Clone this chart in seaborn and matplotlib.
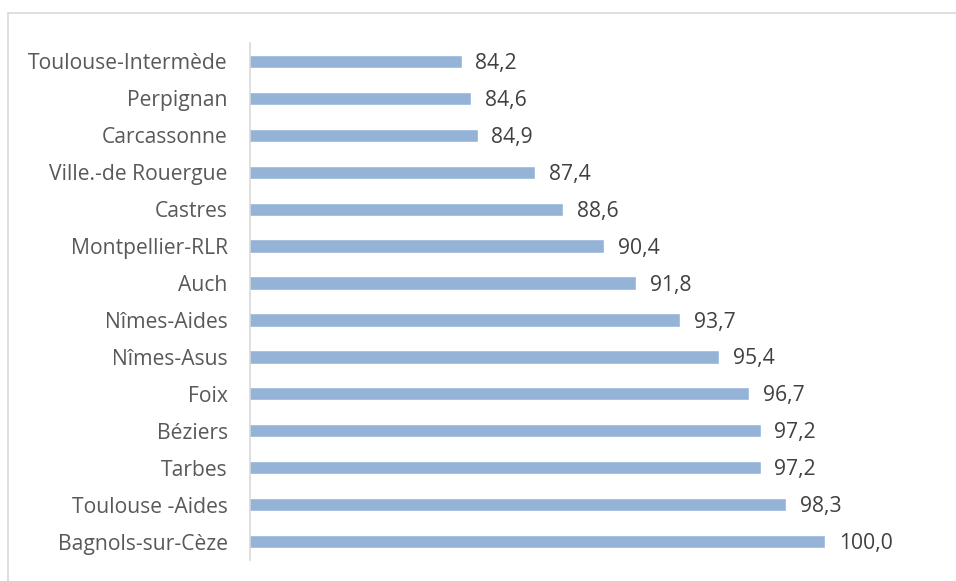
import matplotlib
matplotlib.use("Agg")
import matplotlib.pyplot as plt
import matplotlib.transforms as mtransforms
import seaborn as sns
import pandas as pd
from matplotlib.patches import Rectangle

categories = ["Toulouse-Intermède", "Perpignan", "Carcassonne", "Ville.-de Rouergue",
              "Castres", "Montpellier-RLR", "Auch", "Nîmes-Aides", "Nîmes-Asus",
              "Foix", "Béziers", "Tarbes", "Toulouse -Aides", "Bagnols-sur-Cèze"]
values = [84.2, 84.6, 84.9, 87.4, 88.6, 90.4, 91.8, 93.7, 95.4, 96.7, 97.2, 97.2, 98.3, 100.0]

df = pd.DataFrame({"site": categories, "val": values})

sns.set_theme(style="white")
plt.rcParams['font.family'] = ['Open Sans', 'DejaVu Sans']

fig = plt.figure(figsize=(9.56, 5.81), dpi=100)
ax = fig.add_axes([250/956, 1-560/581, 690/956, 517/581])

sns.barplot(data=df, y="site", x="val", orient="h", color="#95B3D7",
            saturation=1, width=0.36, ax=ax)

ax.set_xlim(75, 105)
ax.set_ylim(len(categories)-0.5, -0.5)
ax.set_xlabel("")
ax.set_ylabel("")
ax.set_xticks([])
for s in ["top", "right", "bottom"]:
    ax.spines[s].set_visible(False)
ax.spines["left"].set_color("#D9D9D9")
ax.spines["left"].set_linewidth(1.2)
ax.tick_params(axis="y", length=0, pad=16, labelsize=15.2, labelcolor="#595959")

shift = mtransforms.offset_copy(ax.transData, fig=fig, x=0, y=-1.5, units="points")
for i, v in enumerate(values):
    ax.text(v + 0.6, i, f"{v:.1f}".replace(".", ","), va="center", ha="left",
            fontsize=15.2, color="#404040", transform=shift)

fig.patches.append(Rectangle((8/956, -0.1), 1.1, 1-13/581+0.1, transform=fig.transFigure,
                             fill=False, edgecolor="#D9D9D9", linewidth=1.2))

fig.savefig("out.png", dpi=100)
